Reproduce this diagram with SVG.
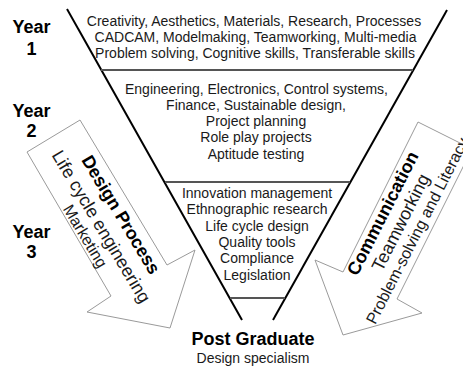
<svg xmlns="http://www.w3.org/2000/svg" width="463" height="367" viewBox="0 0 463 367">
  <style>
    text { font-family: "Liberation Sans", Arial, sans-serif; fill: #1a1a1a; }
    .year { font-size: 18px; font-weight: bold; text-anchor: middle; fill: #000; }
    .body { font-size: 14px; text-anchor: middle; }
    .head { font-size: 18px; font-weight: bold; text-anchor: middle; fill: #000; }
    .sub { font-size: 18px; text-anchor: middle; }
    .minor { font-size: 16px; text-anchor: middle; }
    .funnel { stroke: #000; stroke-width: 2; fill: none; }
    .divider { stroke: #555; stroke-width: 2; fill: none; }
    .arrow { fill: #fff; stroke: #9a9a9a; stroke-width: 1; }
  </style>

  <!-- year labels -->
  <g id="year1">
    <text class="year" x="31.5" y="33">Year</text>
    <text class="year" x="31.5" y="55">1</text>
  </g>
  <g id="year2">
    <text class="year" x="31.5" y="117">Year</text>
    <text class="year" x="31.5" y="137">2</text>
  </g>
  <g id="year3">
    <text class="year" x="31.5" y="238">Year</text>
    <text class="year" x="31.5" y="258">3</text>
  </g>

  <!-- funnel outline and stage dividers -->
  <g id="funnel">
    <line class="funnel" x1="67" y1="9" x2="242" y2="320"/>
    <line class="funnel" x1="447" y1="10" x2="273" y2="320"/>
    <line class="divider" x1="101" y1="70" x2="413" y2="70"/>
    <line class="divider" x1="165" y1="182" x2="350" y2="182"/>
    <line class="divider" x1="230" y1="298" x2="285" y2="298"/>
  </g>

  <g id="stage1">
    <text class="body" x="254" y="25.5">Creativity, Aesthetics, Materials, Research, Processes</text>
    <text class="body" x="255.5" y="41.5">CADCAM, Modelmaking, Teamworking, Multi-media</text>
    <text class="body" x="255" y="57.5">Problem solving, Cognitive skills, Transferable skills</text>
  </g>

  <g id="stage2">
    <text class="body" x="256.5" y="93.5">Engineering, Electronics, Control systems,</text>
    <text class="body" x="256" y="109.8">Finance, Sustainable design,</text>
    <text class="body" x="256" y="126.1">Project planning</text>
    <text class="body" x="256" y="142.4">Role play projects</text>
    <text class="body" x="256" y="158.7">Aptitude testing</text>
  </g>

  <g id="stage3">
    <text class="body" x="257" y="198">Innovation management</text>
    <text class="body" x="257" y="214.3">Ethnographic research</text>
    <text class="body" x="257" y="230.6">Life cycle design</text>
    <text class="body" x="257" y="246.9">Quality tools</text>
    <text class="body" x="257" y="263.2">Compliance</text>
    <text class="body" x="257" y="279.5">Legislation</text>
  </g>

  <g id="postgraduate">
    <text class="head" x="253" y="345">Post Graduate</text>
    <text class="body" x="253" y="363">Design specialism</text>
  </g>

  <!-- side arrows feeding into the funnel -->
  <g id="design-process">
    <polygon class="arrow" points="80,120 27,152 111,296 87,312 170,328 195,250 167,265"/>
    <g transform="translate(115.7,217.8) rotate(59)">
      <text class="head" x="0" y="0">Design Process</text>
      <text class="sub" x="0" y="23">Life cycle engineering</text>
      <text class="minor" x="0" y="41">Marketing</text>
    </g>
  </g>

  <g id="communication">
    <polygon class="arrow" points="418,122 472,149 397,299 422,313 343,335 315,260 343,272"/>
    <g transform="translate(388.2,216.1) rotate(-63)">
      <text class="head" x="0" y="0">Communication</text>
      <text class="sub" x="0" y="20">Teamworking</text>
      <text class="minor" x="0" y="38">Problem-solving and Literacy</text>
    </g>
  </g>
</svg>
